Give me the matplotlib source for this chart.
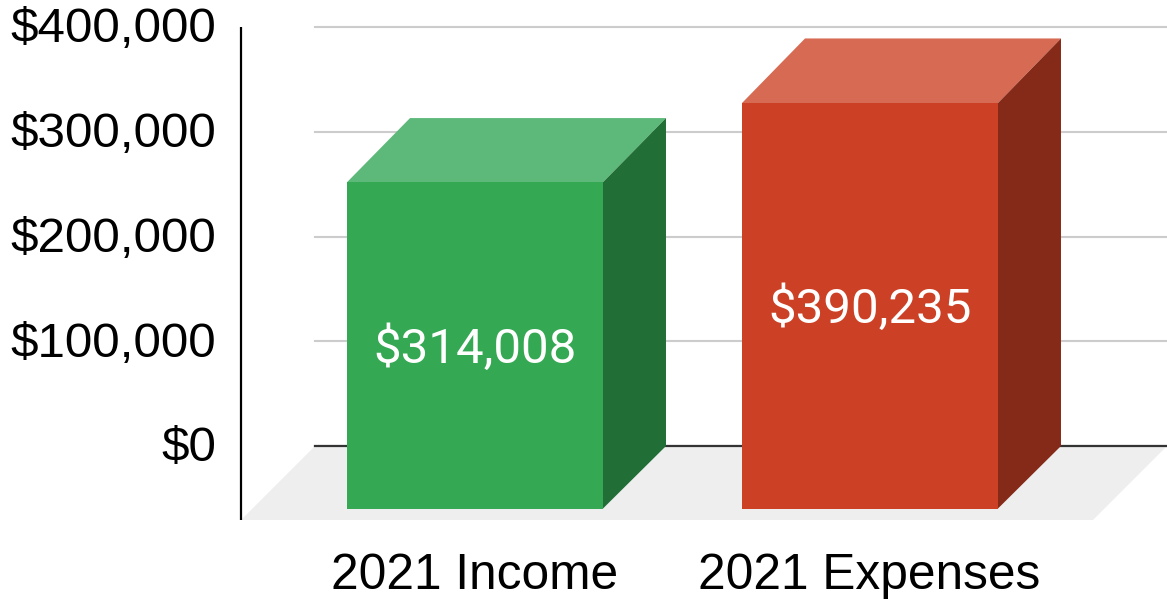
import matplotlib
matplotlib.use("Agg")
import matplotlib.pyplot as plt
from matplotlib.patches import Polygon
from matplotlib.transforms import Affine2D

categories = ["2021 Income", "2021 Expenses"]
values = [314008, 390235]
value_labels = ["$314,008", "$390,235"]
y_ticks = [0, 100000, 200000, 300000, 400000]
y_tick_labels = ["$0", "$100,000", "$200,000", "$300,000", "$400,000"]

front_colors = ["#34A853", "#CC4125"]
top_colors = ["#5DB97A", "#D66A52"]
side_colors = ["#216E37", "#852A18"]

W, H = 1167, 599
BAR_WIDTH = 0.648
DEPTH = 63  # глубина столбца, px
FLOOR = 74  # глубина пола, px
BASE_Y = H - 446  # нулевая линия на картинке, снизу

plt.rcParams["font.family"] = ["Liberation Sans", "DejaVu Sans"]

fig = plt.figure(figsize=(W / 100, H / 100), dpi=100)
ax = fig.add_axes([315 / W, 1 - 446 / H, (1167 - 315) / W, (446 - 27) / H])
ax.set_xlim(-0.5646, 1.5924)
ax.set_ylim(0, 400000)
for s in ax.spines.values():
    s.set_visible(False)


def shift(dx, dy, k=1.0):
    # сдвиг вниз-влево от задней плоскости, k слегка сжимает высоту к нулевой линии
    return ax.transData + Affine2D().translate(0, -BASE_Y).scale(1, k).translate(-dx, BASE_Y - dy)


ax.set_yticks(y_ticks)
ax.set_yticklabels(y_tick_labels, fontsize=35.6, color="black")
ax.tick_params(axis="y", length=0, pad=71)
for lab in ax.get_yticklabels():
    lab.set_transform(lab.get_transform() + Affine2D().translate(0, 2))
ax.set_xticks([])
ax.grid(axis="y", color="#CCCCCC", linewidth=1.5, zorder=0, clip_on=False)
for line in ax.get_ygridlines():
    line.set_clip_on(False)
ax.set_axisbelow(True)
ax.axhline(0, color="#333333", linewidth=1.6, zorder=1.5, clip_on=False)

# пол
floor_tr = shift(FLOOR, FLOOR)
x0, x1 = ax.get_xlim()
to_back = ax.transData
floor = Polygon([to_back.transform((x0, 0)), to_back.transform((x1, 0)),
                 floor_tr.transform((x1, 0)), floor_tr.transform((x0, 0))],
                closed=True, transform=None, facecolor="#EEEEEE", edgecolor="none",
                zorder=1, clip_on=False)
ax.add_patch(floor)

# ось Y
ax_x = floor_tr.transform((x0, 0))[0]
fig.add_artist(plt.Line2D([ax_x / W, ax_x / W], [(H - 520) / H, (H - 27) / H], color="black",
                          linewidth=1.6, solid_capstyle="butt", zorder=2))

for i, v in enumerate(values):
    left, right = i - BAR_WIDTH / 2, i + BAR_WIDTH / 2
    tr = shift(DEPTH, 62.5, 0.992)
    back = shift(0, 0, 0.997)
    # верх и боковая грань: задние точки и передние со сдвигом
    back_tl = back.transform((left, v))
    back_tr = back.transform((right, v))
    back_br = back.transform((right, 0))
    front_tl = tr.transform((left, v))
    front_tr = tr.transform((right, v))
    front_br = tr.transform((right, 0))
    ax.add_patch(Polygon([front_tl, back_tl, back_tr, front_tr], closed=True, transform=None,
                         facecolor=top_colors[i], edgecolor="none", zorder=3, clip_on=False))
    ax.add_patch(Polygon([front_tr, back_tr, back_br, front_br], closed=True, transform=None,
                         facecolor=side_colors[i], edgecolor="none", zorder=3, clip_on=False))
    ax.bar(i, v, BAR_WIDTH, color=front_colors[i], transform=tr, zorder=4, clip_on=False)
    ax.text(i, v / 2, value_labels[i], transform=shift(DEPTH, 66, 0.992), color="white",
            fontsize=35.5, family=["Roboto", "DejaVu Sans"], ha="center", va="center", zorder=5)
    ax.annotate(categories[i], (i, 0), xycoords="data", xytext=(-(DEPTH + i) * 0.72, -130 * 0.72),
                textcoords="offset points", ha="center", va="center", fontsize=35.7,
                color="black", annotation_clip=False)

fig.savefig("out.png", dpi=100)
